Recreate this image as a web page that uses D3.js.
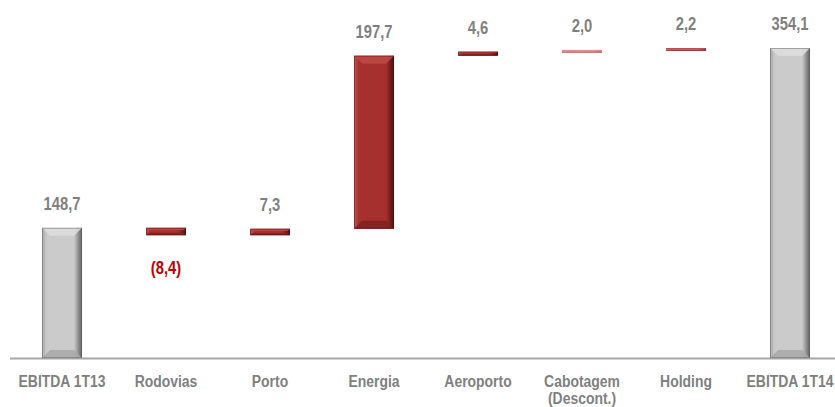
<!DOCTYPE html>
<html>
<head>
<meta charset="utf-8">
<script src="https://cdn.jsdelivr.net/npm/d3@7"></script>
<style>
  html, body { margin: 0; padding: 0; background: #fff; }
  svg { display: block; }
  text { font-family: "Liberation Sans", Arial, sans-serif; font-weight: bold; }
</style>
</head>
<body>
<script>
// chart data
const categories = ['EBITDA 1T13', 'Rodovias', 'Porto', 'Energia', 'Aeroporto', 'Cabotagem|(Descont.)', 'Holding', 'EBITDA 1T14'];
const values = [148.7, -8.4, 7.3, 197.7, 4.6, 2.0, 2.2, 354.1];
const kinds = ['total', 'delta', 'delta', 'delta', 'delta', 'light', 'mid', 'total'];
const valueLabels = ['148,7', '(8,4)', '7,3', '197,7', '4,6', '2,0', '2,2', '354,1'];

const width = 835;
const height = 407;
const baseY = 358;
const narrow = 0.82; // squeeze to look like Arial Narrow

// running totals for the bridge
let running = 0;
const bars = categories.map((c, i) => {
    let y0, y1;
    if (kinds[i] === 'total') {
        y0 = 0; y1 = values[i];
        running = values[i];
    } else {
        y0 = running; y1 = running + values[i];
        running = y1;
    }
    return { cat: c, v: values[i], kind: kinds[i], label: valueLabels[i], lo: Math.min(y0, y1), hi: Math.max(y0, y1) };
});

const x = d3.scaleBand().domain(categories).range([10, 842]).paddingInner(0.615).paddingOuter(0.3075);
const y = d3.scaleLinear().domain([0, 354.1]).range([baseY, 48]);

const svg = d3.select('body').append('svg').attr('width', width).attr('height', height);
const defs = svg.append('defs');

// colour sets: [left edge, body, right edge, top bevel, bottom bevel]
const palettes = {
    total: ['#a4a4a4', '#cbcbcb', '#5e5e5e', '#dedede', '#a8a8a8'],
    delta: ['#b55a57', '#a5302d', '#4e0d0d', '#bd4a46', '#7e2220'],
    light: ['#d99a9a', '#d98a8a', '#c07070', '#e6a8a8', '#c87a7a'],
    mid:   ['#c97575', '#c45e5e', '#8e3434', '#d07676', '#a84848']
};

Object.entries(palettes).forEach(([k, p]) => {
    const g = defs.append('linearGradient').attr('id', 'grad-' + k).attr('x1', 0).attr('x2', 1).attr('y1', 0).attr('y2', 0);
    g.append('stop').attr('offset', '0%').attr('stop-color', p[0]);
    g.append('stop').attr('offset', '12%').attr('stop-color', p[1]);
    g.append('stop').attr('offset', '80%').attr('stop-color', p[1]);
    g.append('stop').attr('offset', '100%').attr('stop-color', p[2]);
});

// axis line
svg.append('line')
    .attr('x1', 10).attr('x2', width)
    .attr('y1', baseY + 0.5).attr('y2', baseY + 0.5)
    .attr('stroke', '#a6a6a6').attr('stroke-width', 2);

const barG = svg.append('g');
bars.forEach(d => {
    const bx = x(d.cat);
    const bw = x.bandwidth();
    const top = y(d.hi);
    const bh = Math.max(y(d.lo) - y(d.hi), 3);
    const p = palettes[d.kind];
    const g = barG.append('g');
    g.append('rect')
        .attr('x', bx).attr('y', top).attr('width', bw).attr('height', bh)
        .attr('fill', `url(#grad-${d.kind})`);
    // bevel
    const b = Math.min(8, bh / 3);
    g.append('path')
        .attr('d', `M${bx},${top}L${bx + bw},${top}L${bx + bw - b},${top + b}L${bx + b},${top + b}Z`)
        .attr('fill', p[3]).attr('opacity', 0.85);
    g.append('path')
        .attr('d', `M${bx},${top + bh}L${bx + bw},${top + bh}L${bx + bw - b},${top + bh - b}L${bx + b},${top + bh - b}Z`)
        .attr('fill', p[4]).attr('opacity', 0.85);
    g.append('rect')
        .attr('x', bx + 0.5).attr('y', top + 0.5).attr('width', bw - 1).attr('height', bh - 1)
        .attr('fill', 'none').attr('stroke', p[2]).attr('stroke-opacity', 0.45);
});

// value labels
svg.append('g').selectAll('text')
    .data(bars)
    .join('text')
    .attr('transform', d => `translate(${x(d.cat) + x.bandwidth() / 2},${d.v < 0 ? y(d.lo) + 39 : y(d.hi) - 18}) scale(${narrow},1)`)
    .attr('text-anchor', 'middle')
    .attr('font-size', 18)
    .attr('fill', d => d.v < 0 ? '#c00000' : '#7f7f7f')
    .text(d => d.label);

// category labels
const catG = svg.append('g');
categories.forEach(c => {
    const t = catG.append('text')
        .attr('transform', `translate(${x(c) + x.bandwidth() / 2},387) scale(${narrow},1)`)
        .attr('text-anchor', 'middle')
        .attr('font-size', 17)
        .attr('fill', '#7f7f7f');
    c.split('|').forEach((line, i) => {
        t.append('tspan').attr('x', 0).attr('dy', i ? 17 : 0).text(line);
    });
});
</script>
</body>
</html>
